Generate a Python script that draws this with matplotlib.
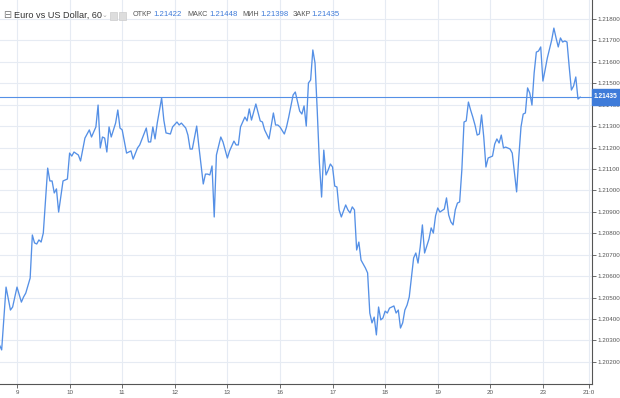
import matplotlib
matplotlib.use("Agg")
import matplotlib.pyplot as plt
from matplotlib.patches import Rectangle

plt.rcParams['font.family'] = ['Liberation Sans', 'DejaVu Sans']

# hours counted from midnight of day "9"
hours = [-8, -7, -5, -3, -2, 0, 2, 3, 4, 6, 7, 8, 9, 10, 11, 12, 14, 15, 16, 17, 18, 19, 21, 23,
         24, 25, 26, 28, 29, 31, 33, 34, 36, 37, 38, 39, 40, 41, 42, 43, 45, 46, 47,
         48, 50, 52, 53, 55, 56, 59, 60, 61, 62, 63, 64, 66, 67, 68, 70, 71,
         73, 74, 75, 77, 78, 79, 80, 82, 83, 85, 86, 87, 88, 89, 90, 91, 93, 94,
         96, 97, 99, 100, 101, 102, 104, 105, 106, 107, 109, 111, 112, 113, 115, 117, 118, 119,
         120, 122, 123, 124, 126, 127, 129, 130, 131, 132, 133, 134, 135, 136, 137, 138, 139, 140,
         141, 142, 143, 144, 145, 146, 147, 148, 150, 151, 152, 153, 154, 155, 156, 157, 159, 160,
         161, 162, 163, 164, 165, 166, 167, 168, 169, 170, 172, 173, 174, 175, 176, 177, 178, 179,
         181, 182, 183, 184, 185, 186, 188, 189, 190, 191, 192, 193, 195, 196, 197, 198, 199, 200,
         201, 202, 203, 204, 205, 206, 207, 208, 209, 210, 211, 212, 213, 214, 215, 217, 218, 219,
         220, 221, 222, 223, 225, 226, 228, 229, 230, 231, 232, 233, 234, 235, 236, 237, 238, 239,
         240, 241, 242, 244, 245, 246, 247, 248, 249, 250, 251, 252, 253, 254, 255, 256, 257]

closes = [1.20279, 1.20256, 1.20549, 1.20442, 1.20456, 1.20549, 1.20479, 1.20503, 1.20521, 1.20591,
          1.20792, 1.20755, 1.20750, 1.20769, 1.20759, 1.20801, 1.21104, 1.21044, 1.21044, 1.20988,
          1.21007, 1.20899, 1.21044, 1.21053,
          1.21174, 1.21160, 1.21179, 1.21165, 1.21137, 1.21244, 1.21282, 1.21249, 1.21296, 1.21398,
          1.21198, 1.21249, 1.21244, 1.21179, 1.21296, 1.21249, 1.21314, 1.21375, 1.21291,
          1.21282, 1.21174, 1.21184, 1.21146, 1.21198, 1.21212, 1.21291, 1.21226, 1.21226, 1.21296,
          1.21240, 1.21314, 1.21431, 1.21328, 1.21268, 1.21263, 1.21296,
          1.21319, 1.21305, 1.21314, 1.21291, 1.21258, 1.21193, 1.21193, 1.21300, 1.21205, 1.21030,
          1.21076, 1.21076, 1.21072, 1.21114, 1.20876, 1.21165, 1.21249, 1.21226,
          1.21151, 1.21184, 1.21230, 1.21212, 1.21212, 1.21296, 1.21342, 1.21324, 1.21380, 1.21328,
          1.21403, 1.21324, 1.21319, 1.21282, 1.21240, 1.21361, 1.21305, 1.21305,
          1.21296, 1.21263, 1.21296, 1.21342, 1.21445, 1.21459, 1.21370, 1.21356, 1.21394, 1.21300,
          1.21501, 1.21515, 1.21655, 1.21594, 1.21375, 1.21128, 1.20969, 1.21188,
          1.21072, 1.21095, 1.21123, 1.21109, 1.21020, 1.21016, 1.20909, 1.20876, 1.20932, 1.20909,
          1.20895, 1.20923, 1.20909, 1.20722, 1.20759, 1.20675, 1.20638, 1.20615,
          1.20428, 1.20382, 1.20409, 1.20326, 1.20456, 1.20396, 1.20405, 1.20437, 1.20428, 1.20451,
          1.20461, 1.20428, 1.20442, 1.20358, 1.20382, 1.20442, 1.20465, 1.20503,
          1.20685, 1.20708, 1.20661, 1.20736, 1.20839, 1.20708, 1.20773, 1.20825, 1.20801, 1.20881,
          1.20918, 1.20899, 1.20913, 1.20965, 1.20885, 1.20853, 1.20839, 1.20909,
          1.20941, 1.20946, 1.21095, 1.21319, 1.21324, 1.21412, 1.21375, 1.21342, 1.21305, 1.21258,
          1.21263, 1.21352, 1.21249, 1.21109, 1.21151, 1.21160, 1.21216, 1.21240,
          1.21221, 1.21258, 1.21198, 1.21202, 1.21193, 1.21174, 1.20993, 1.21156, 1.21296, 1.21356,
          1.21361, 1.21478, 1.21454, 1.21398, 1.21548, 1.21645, 1.21650, 1.21669,
          1.21510, 1.21562, 1.21617, 1.21701, 1.21757, 1.21711, 1.21669, 1.21711, 1.21692, 1.21697,
          1.21692, 1.21576, 1.21468, 1.21487, 1.21529, 1.21426, 1.21435]

tick_hours = [0, 24, 48, 72, 96, 120, 144, 168, 192, 216, 240, 261]
tick_labels = ["9", "10", "11", "12", "13", "16", "17", "18", "19", "20", "23", "21:0"]
price_ticks = [1.202, 1.203, 1.204, 1.205, 1.206, 1.207, 1.208, 1.209, 1.210,
               1.211, 1.212, 1.213, 1.214, 1.215, 1.216, 1.217, 1.218]

name = "Euro vs US Dollar, 60"
ohlc_names = ["ОТКР", "МАКС", "МИН", "ЗАКР"]
ohlc_vals = ["1.21422", "1.21448", "1.21398", "1.21435"]
last = 1.21435

assert len(hours) == len(closes)

W, H = 620, 398
fig = plt.figure(figsize=(6.2, 3.98), dpi=100)
ax = fig.add_axes([0, 14 / H, 592 / W, 384 / H])

blue = "#5590e6"
ax.plot(hours, closes, color=blue, lw=0.95)
ax.axhline(last, color=blue, lw=0.8)

ax.set_xlim(-7.76, 262.4)
ax.set_ylim(1.20097, 1.21888)
ax.set_xticks(tick_hours)
ax.set_xticklabels(tick_labels)
ax.set_yticks(price_ticks)
ax.set_yticklabels(["%.5f" % p for p in price_ticks])
ax.yaxis.tick_right()
ax.grid(True, color="#e6ebf3", lw=0.8)
ax.set_axisbelow(True)
for s in ["top", "left"]:
    ax.spines[s].set_visible(False)
for s in ["right", "bottom"]:
    ax.spines[s].set_color("#555555")
    ax.spines[s].set_linewidth(0.8)
ax.tick_params(axis="both", length=3, width=0.6, color="#555555",
               labelsize=4.5, labelcolor="#555555", pad=1.2)

# last price marker on the scale
fig.add_artist(Rectangle((592 / W, (H - 105) / H), 28 / W, 16 / H,
                         transform=fig.transFigure, color="#3e7bd9", zorder=5))
fig.text(606 / W, (H - 97) / H, "%.5f" % last, color="white", fontsize=4.8,
         fontweight="bold", ha="center", va="center", zorder=6)

# header
y_head = (H - 15) / H
fig.text(3 / W, y_head, "⊟", color="#777777", fontsize=7, va="center",
         family=["DejaVu Sans"])
fig.text(14 / W, y_head, name, color="#333333", fontsize=6.6, va="center")
fig.text(102 / W, y_head, "⌄", color="#aaaaaa", fontsize=5, va="center",
         family=["DejaVu Sans"])
for bx in [110, 119]:
    fig.add_artist(Rectangle((bx / W, (H - 19.5) / H), 7 / W, 8 / H,
                             transform=fig.transFigure, facecolor="#dddddd",
                             edgecolor="#cccccc", lw=0.5))
name_x = [133, 187, 242, 293]
val_x = [153, 209, 260, 311]
for nx, vx, n, v in zip(name_x, val_x, ohlc_names, ohlc_vals):
    fig.text(nx / W, y_head, n, color="#555555", fontsize=5.2, va="center")
    fig.text(vx / W, y_head, v, color="#3e7bd9", fontsize=5.6, va="center")

fig.savefig("out.png", dpi=100, facecolor="white")
